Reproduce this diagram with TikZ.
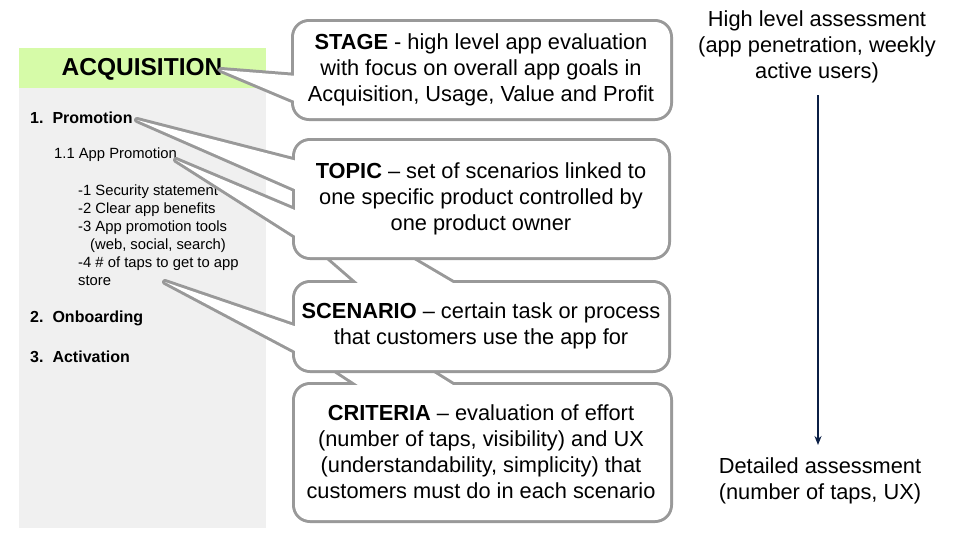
\documentclass[tikz,border=0pt]{standalone}
\usepackage{fontspec}
\setmainfont{Liberation Sans}
\usetikzlibrary{arrows.meta}
\definecolor{panel}{HTML}{F0F0F0}
\definecolor{strip}{HTML}{D6FBA8}
\definecolor{edge}{HTML}{999999}
\definecolor{navy}{HTML}{0B1F45}
\begin{document}
\begin{tikzpicture}[x=1pt,y=-1pt,
  ol/.style={draw=edge,line width=6pt,line join=round},
  fl/.style={fill=white},
  big/.style={font=\fontsize{21.8}{26}\selectfont,align=center,inner sep=0pt},
  it/.style={anchor=west,inner sep=0pt,font=\fontsize{14.8}{16}\selectfont},
  bit/.style={anchor=west,inner sep=0pt,font=\fontsize{16}{18}\selectfont\bfseries}]
\useasboundingbox (0,0) rectangle (959,538);
% left panel
\fill[panel] (19,48) rectangle (266,528);
\fill[strip] (19,48) rectangle (266,88);
\node[inner sep=0pt,font=\fontsize{24.5}{28}\selectfont\bfseries] (acq) at (142,69) {ACQUISITION};
\node[bit] (p1) at (30,118) {1.\hspace{9pt}Promotion};
\node[it] (p11) at (54,155) {1.1 App Promotion};
\node[it] (s1) at (78,192) {-1 Security statement};
\node[it] (s2) at (78,210) {-2 Clear app benefits};
\node[it] (s3) at (78,228) {-3 App promotion tools};
\node[it] (s3b) at (90,246) {(web, social, search)};
\node[it] (s4) at (78,264) {-4 \# of taps to get to app};
\node[it] (s4b) at (78,281) {store};
\node[bit] (p2) at (30,318) {2.\hspace{9pt}Onboarding};
\node[bit] (p3) at (30,357) {3.\hspace{9pt}Activation};
% callouts (bottom to top)
\def\crit{(295,385) rectangle (670,520)}
\def\critw{(358,385) -- (453,385) -- (413,360) -- (320,360) -- cycle}
\draw[ol] \critw; \draw[ol,rounded corners=15pt] \crit;
\fill[fl] \critw; \fill[fl,rounded corners=15pt] \crit;
\def\scen{(295,283) rectangle (668,370)}
\def\scenw{(358,283) -- (453,283) -- (397,250) -- (320,250) -- cycle}
\def\scenl{(297,327) -- (165,282) -- (297,352) -- cycle}
\draw[ol] \scenw; \draw[ol] \scenl; \draw[ol,rounded corners=15pt] \scen;
\fill[fl] \scenw; \fill[fl] \scenl; \fill[fl,rounded corners=15pt] \scen;
\def\topic{(295,141) rectangle (668,257)}
\def\topa{(297,161) -- (137,120) -- (297,190) -- cycle}
\def\topb{(297,211) -- (176,160) -- (297,237) -- cycle}
\draw[ol] \topa; \draw[ol] \topb; \draw[ol,rounded corners=15pt] \topic;
\fill[fl] \topa; \fill[fl] \topb; \fill[fl,rounded corners=15pt] \topic;
\def\stage{(294,22) rectangle (670,118)}
\def\stagew{(297,76) -- (221,70) -- (297,102) -- cycle}
\draw[ol] \stagew; \draw[ol,rounded corners=15pt] \stage;
\fill[fl] \stagew; \fill[fl,rounded corners=15pt] \stage;
\node[big] (tstage) at (481,70) {\textbf{STAGE} - high level app evaluation\\with focus on overall app goals in\\Acquisition, Usage, Value and Profit};
\node[big] (ttopic) at (481,199) {\textbf{TOPIC} – set of scenarios linked to\\one specific product controlled by\\one product owner};
\node[big] (tscen) at (481,326) {\textbf{SCENARIO} – certain task or process\\that customers use the app for};
\node[big] (tcrit) at (481,452) {\textbf{CRITERIA} – evaluation of effort\\(number of taps, visibility) and UX\\(understandability, simplicity) that\\customers must do in each scenario};
% right
\node[big] (hi) at (817,47) {High level assessment\\(app penetration, weekly\\active users)};
\node[big] (lo) at (820,481) {Detailed assessment\\(number of taps, UX)};
\coordinate (a1) at (818,95);
\coordinate (a2) at (818,445);
\draw[navy,line width=1.5pt,-{Stealth[length=9pt,width=7pt]}] (a1) -- (a2);
\end{tikzpicture}
\end{document}
